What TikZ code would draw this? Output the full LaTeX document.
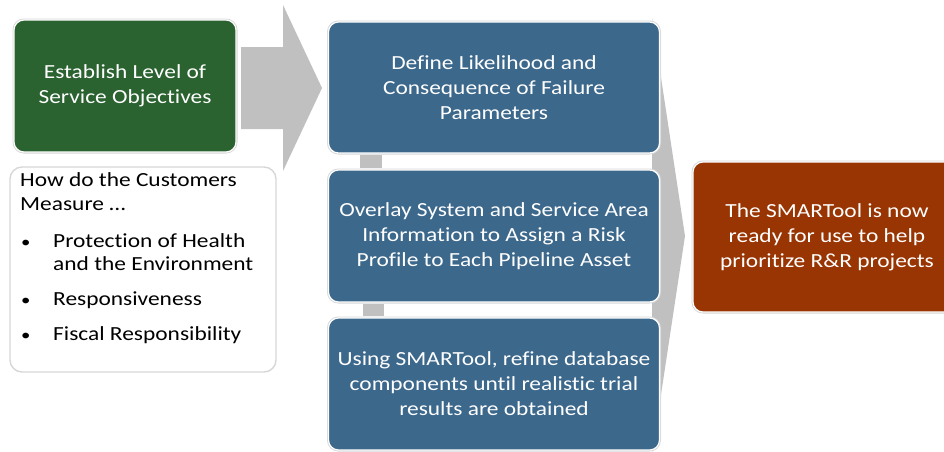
\documentclass[tikz,border=0pt]{standalone}
\usepackage{fontspec}
\setmainfont{Carlito}[FakeStretch=1.17, Ligatures=NoCommon]
\usetikzlibrary{calc}
\definecolor{stepgreen}{RGB}{42,98,48}
\definecolor{stepblue}{RGB}{60,104,140}
\definecolor{stepbrown}{RGB}{153,53,3}
\definecolor{arrowgray}{RGB}{192,192,192}
\definecolor{rimgray}{RGB}{215,215,215}
\tikzset{
  x=1pt, y=-1pt,
  card/.style={rectangle, rounded corners=10pt, inner sep=0pt,
    draw=white, line width=1.2pt,
    preaction={draw=rimgray, line width=3pt},
    text=white, align=center,
    font=\fontsize{20}{25}\selectfont},
  plainbox/.style={rectangle, rounded corners=12pt, inner sep=0pt,
    draw=rimgray, line width=1.4pt, fill=white},
  listtext/.style={anchor=base west, inner sep=0pt, text=black,
    font=\fontsize{20}{25}\selectfont},
  flowarrow/.style={fill=arrowgray, draw=none},
  link/.style={fill=arrowgray, draw=none}
}
\begin{document}
\begin{tikzpicture}
\useasboundingbox (0,0) rectangle (944,451);

% wide chevron pointing at the result box
\fill[flowarrow] (652,18) -- (685,236) -- (652,454) -- cycle;

% block arrow from the objectives to the process steps
\fill[flowarrow] (241,47) -- (283,47) -- (283,5) -- (322,88)
  -- (283,171) -- (283,129) -- (241,129) -- cycle;

% objectives
\node[card, fill=stepgreen, minimum width=222pt, minimum height=132pt]
  (goal) at (125,86) {Establish Level of\\Service Objectives};

% customer measures
\node[plainbox, minimum width=266pt, minimum height=205pt]
  (measures) at (143,269.5) {};
\node[listtext] (q1) at (20,186) {How do the Customers};
\node[listtext] (q2) at (20,210) {Measure \ldots};
\node[listtext] (m1) at (53,247) {Protection of Health};
\node[listtext] (m1b) at (53,270) {and the Environment};
\node[listtext] (m2) at (53,305) {Responsiveness};
\node[listtext] (m3) at (53,340) {Fiscal Responsibility};
\foreach \m in {m1,m2,m3}
  \node[anchor=base west, inner sep=0pt, font=\fontsize{16}{25}\selectfont]
    at (\m.base west) [xshift=-32pt] {\textbullet};

% process steps
\node[card, fill=stepblue, minimum width=331pt, minimum height=131pt]
  (s1) at (494,87.5) {Define Likelihood and\\Consequence of Failure\\Parameters};
\node[card, fill=stepblue, minimum width=331pt, minimum height=132pt]
  (s2) at (494,236) {Overlay System and Service Area\\Information to Assign a Risk\\Profile to Each Pipeline Asset};
\node[card, fill=stepblue, minimum width=331pt, minimum height=132pt]
  (s3) at (494,384) {Using SMARTool, refine database\\components until realistic trial\\results are obtained};

% short links between the steps
\fill[link] ($(s1.south west)+(32,1.5)$) rectangle ($(s2.north west)+(54,-1.5)$);
\fill[link] ($(s2.south west)+(35,1.5)$) rectangle ($(s3.north west)+(56,-1.5)$);

% result
\node[card, fill=stepbrown, minimum width=268pt, minimum height=150pt]
  (done) at (827,237) {The SMARTool is now\\ready for use to help\\prioritize R\&R projects};
\end{tikzpicture}
\end{document}
